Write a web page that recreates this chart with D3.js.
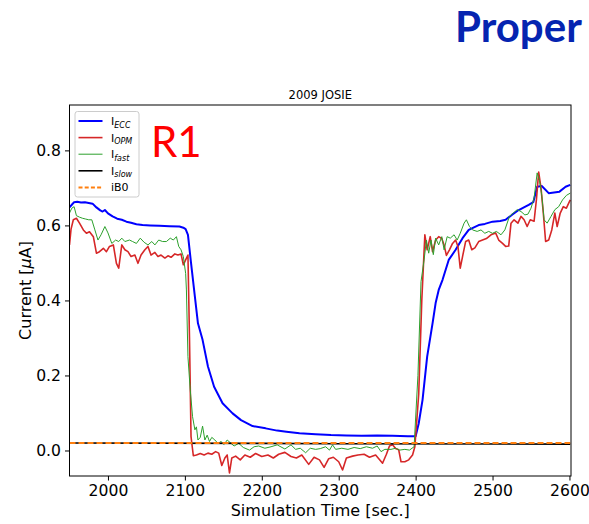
<!DOCTYPE html>
<html><head><meta charset="utf-8">
<script src="https://cdn.jsdelivr.net/npm/d3@7"></script>
<style>body{margin:0;background:#fff}svg{display:block}</style>
</head><body>
<svg id="c" width="589" height="524"></svg>
<script>
// ---------- data ----------
const xTicks = [2000, 2100, 2200, 2300, 2400, 2500, 2600];
const yTicks = [0.0, 0.2, 0.4, 0.6, 0.8];
const seriesNames = ["ECC", "OPM", "fast", "slow"];

const eccT = [1950,1953,1956,1960,1965,1970,1975,1980,1985,1990,1993,1996,2000,2006,2012,2018,2024,2030,2037,2045,2055,2067,2080,2093,2098,2101,2104,2108,2112,2117,2123,2130,2138,2149,2162,2173,2188,2205,2220,2232,2249,2270,2290,2310,2330,2350,2370,2390,2400,2404,2409,2415,2422,2426,2430,2435,2443,2452,2461,2469,2482,2490,2500,2510,2517,2525,2534,2547,2553,2558,2564,2573,2580,2587,2595,2601];
const eccV = [0.648,0.655,0.662,0.663,0.661,0.662,0.660,0.658,0.648,0.640,0.637,0.641,0.632,0.624,0.618,0.615,0.610,0.607,0.603,0.601,0.600,0.599,0.598,0.597,0.594,0.590,0.575,0.500,0.428,0.339,0.295,0.224,0.170,0.126,0.099,0.081,0.065,0.059,0.053,0.050,0.046,0.043,0.041,0.040,0.039,0.040,0.039,0.038,0.038,0.072,0.135,0.250,0.339,0.393,0.428,0.455,0.508,0.535,0.566,0.588,0.601,0.604,0.610,0.612,0.615,0.628,0.641,0.655,0.662,0.703,0.705,0.686,0.688,0.690,0.703,0.708];

const opmT = [1950,1952,1955,1959,1963,1968,1972,1976,1981,1985,1989,1994,1998,2002,2007,2011,2014,2018,2022,2026,2030,2035,2039,2043,2048,2052,2056,2061,2065,2069,2074,2078,2082,2087,2091,2095,2098,2101,2104,2106,2108,2111,2115,2120,2125,2130,2135,2140,2144,2148,2152,2155,2158,2161,2166,2172,2178,2185,2192,2200,2208,2215,2222,2230,2238,2245,2252,2261,2268,2275,2281,2287,2293,2300,2305,2310,2318,2325,2333,2340,2348,2357,2362,2366,2370,2374,2378,2381,2386,2391,2396,2399,2404,2408,2412,2415,2419,2422,2426,2430,2434,2437,2440,2444,2448,2452,2455,2458,2461,2465,2469,2473,2477,2482,2487,2492,2498,2504,2508,2513,2517,2521,2524,2528,2533,2537,2541,2545,2549,2554,2557,2560,2563,2566,2569,2573,2577,2581,2584,2588,2592,2596,2601];
const opmV = [0.548,0.590,0.615,0.619,0.606,0.588,0.579,0.583,0.570,0.526,0.530,0.539,0.530,0.544,0.548,0.499,0.486,0.548,0.535,0.530,0.517,0.521,0.499,0.521,0.535,0.544,0.521,0.528,0.517,0.521,0.513,0.519,0.515,0.524,0.521,0.524,0.495,0.508,0.521,0.300,0.037,-0.014,-0.012,-0.008,-0.012,-0.007,-0.010,-0.003,-0.007,-0.040,-0.020,-0.012,-0.060,-0.020,-0.015,-0.025,-0.012,-0.018,-0.008,-0.016,-0.012,-0.020,-0.010,-0.005,-0.016,-0.020,-0.012,-0.037,-0.018,-0.025,-0.045,-0.022,-0.018,-0.030,-0.052,-0.020,-0.015,-0.012,-0.010,-0.018,-0.012,-0.034,-0.010,0.012,0.015,0.005,0.002,-0.030,-0.030,-0.025,-0.012,0.010,0.150,0.400,0.575,0.535,0.570,0.530,0.561,0.570,0.565,0.548,0.520,0.535,0.552,0.561,0.544,0.486,0.517,0.557,0.561,0.535,0.540,0.557,0.561,0.565,0.575,0.580,0.561,0.552,0.544,0.545,0.606,0.615,0.606,0.624,0.615,0.597,0.615,0.611,0.668,0.742,0.700,0.633,0.557,0.561,0.588,0.633,0.597,0.633,0.650,0.646,0.668];

const fastT = [1950,1953,1956,1959,1963,1967,1971,1975,1979,1983,1987,1991,1996,2000,2005,2010,2014,2018,2022,2028,2032,2037,2042,2047,2052,2057,2061,2066,2071,2076,2081,2085,2089,2092,2095,2098,2101,2102,2104,2107,2110,2113,2115,2117,2120,2123,2126,2129,2132,2135,2139,2143,2147,2151,2155,2160,2164,2170,2176,2184,2190,2196,2204,2212,2220,2230,2238,2244,2250,2257,2263,2270,2276,2283,2288,2292,2296,2304,2312,2320,2328,2336,2344,2350,2355,2360,2368,2374,2379,2386,2392,2398,2403,2407,2411,2414,2417,2420,2423,2426,2430,2434,2437,2441,2445,2450,2454,2458,2463,2466,2470,2474,2480,2485,2490,2495,2500,2505,2511,2516,2522,2527,2532,2537,2542,2546,2550,2554,2558,2561,2564,2567,2571,2576,2581,2586,2591,2596,2601];
const fastV = [0.633,0.646,0.650,0.626,0.622,0.619,0.617,0.615,0.615,0.588,0.561,0.575,0.597,0.580,0.552,0.561,0.557,0.566,0.557,0.561,0.557,0.552,0.566,0.555,0.548,0.557,0.548,0.561,0.557,0.557,0.566,0.561,0.570,0.544,0.535,0.517,0.472,0.428,0.250,0.161,0.090,0.055,0.063,0.028,0.035,0.065,0.028,0.041,0.024,0.035,0.028,0.019,0.024,0.016,0.028,0.019,0.012,0.019,0.008,0.001,0.010,0.012,0.006,0.010,0.015,0.004,0.015,0.003,0.006,-0.006,0.006,0.003,0.005,0.010,0.001,0.015,0.003,0.006,0.003,0.008,0.005,0.010,0.006,0.012,-0.003,0.003,0.003,0.006,0.001,0.003,0.001,0.010,0.200,0.450,0.508,0.561,0.526,0.561,0.522,0.566,0.548,0.570,0.535,0.570,0.566,0.575,0.561,0.579,0.606,0.615,0.597,0.588,0.584,0.588,0.579,0.584,0.579,0.584,0.575,0.588,0.624,0.633,0.642,0.637,0.628,0.630,0.646,0.673,0.740,0.720,0.680,0.615,0.606,0.624,0.642,0.650,0.668,0.680,0.686];

const slowT = [1950, 2200, 2300, 2601];
const slowV = [0.020, 0.019, 0.018, 0.017];
const ib0T = [1950, 2601];
const ib0V = [0.020, 0.020];

// ---------- layout ----------
const L = 69.5, R = 571, T = 105, B = 476;
const svg = d3.select("#c");
const font = "DejaVu Sans, sans-serif";

const x = d3.scaleLinear().domain([1950, 2602]).range([L, R]);
const y = d3.scaleLinear().domain([-0.068, 0.921]).range([B, T]);

svg.append("defs").append("clipPath").attr("id","clip")
  .append("rect").attr("x",L).attr("y",T).attr("width",R-L).attr("height",B-T);

const line = d3.line().x(d=>x(d[0])).y(d=>y(d[1]));
const zip = (a,b)=>a.map((t,i)=>[t,b[i]]);
const g = svg.append("g").attr("clip-path","url(#clip)");

const series = [
  {t:eccT, v:eccV, c:"#0000ff", w:2},
  {t:opmT, v:opmV, c:"#d62728", w:1.6},
  {t:fastT, v:fastV, c:"#2ca02c", w:1},
  {t:slowT, v:slowV, c:"#000000", w:1.6},
  {t:ib0T, v:ib0V, c:"#ff7f0e", w:2, dash:"6,3"}
];
series.forEach(s=>{
  g.append("path").attr("d", line(zip(s.t,s.v))).attr("fill","none")
   .attr("stroke", s.c).attr("stroke-width", s.w)
   .attr("stroke-linejoin","round")
   .attr("stroke-dasharray", s.dash || null);
});

// axes
const xa = svg.append("g").attr("transform",`translate(0,${B})`)
  .call(d3.axisBottom(x).tickValues(xTicks).tickFormat(d3.format("d")).tickSize(4.5).tickPadding(4));
const ya = svg.append("g").attr("transform",`translate(${L},0)`)
  .call(d3.axisLeft(y).tickValues(yTicks).tickFormat(d3.format(".1f")).tickSize(4.5).tickPadding(4));
[xa,ya].forEach(a=>{
  a.select(".domain").remove();
  a.selectAll("text").attr("font-family",font).attr("font-size",15.6).attr("fill","#000");
  a.selectAll("line").attr("stroke","#000").attr("stroke-width",1);
});
xa.selectAll("text").attr("dy","0.75em");
// spines
svg.append("rect").attr("x",L).attr("y",T).attr("width",R-L).attr("height",B-T)
  .attr("fill","none").attr("stroke","#000").attr("stroke-width",1);

// title and labels
svg.append("text").attr("x",(L+R)/2).attr("y",99).attr("text-anchor","middle")
  .attr("font-family",font).attr("font-size",11.5).text("2009 JOSIE");
svg.append("text").attr("x",(L+R)/2).attr("y",516).attr("text-anchor","middle")
  .attr("font-family",font).attr("font-size",16).text("Simulation Time [sec.]");
const yl = svg.append("text").attr("transform",`translate(30.5,${(T+B)/2}) rotate(-90)`)
  .attr("text-anchor","middle").attr("font-family",font).attr("font-size",16);
yl.append("tspan").text("Current [");
yl.append("tspan").attr("font-style","italic").text("μ");
yl.append("tspan").text("A]");

// legend
const lg = svg.append("g");
lg.append("rect").attr("x",75).attr("y",111.5).attr("width",64).attr("height",85.5)
  .attr("rx",2.5).attr("fill","#fff").attr("fill-opacity",0.8)
  .attr("stroke","#cccccc").attr("stroke-width",1);
const legItems = [
  {sub:"ECC", c:"#0000ff", w:2},
  {sub:"OPM", c:"#d62728", w:1.6},
  {sub:"fast", c:"#2ca02c", w:1},
  {sub:"slow", c:"#000000", w:1.6},
  {label:"iB0", c:"#ff7f0e", w:2, dash:"4,2.2"}
];
legItems.forEach((d,i)=>{
  const yy = 121 + i*16.6;
  lg.append("line").attr("x1",78.5).attr("x2",102.5).attr("y1",yy).attr("y2",yy)
    .attr("stroke",d.c).attr("stroke-width",d.w).attr("stroke-dasharray",d.dash||null);
  const t = lg.append("text").attr("x",111).attr("y",yy+4).attr("font-family",font).attr("font-size",11);
  if (d.label) { t.text(d.label); }
  else {
    t.append("tspan").text("I");
    t.append("tspan").attr("dy",2.5).attr("font-size",8).attr("font-style","italic").text(d.sub);
  }
});

// annotations
svg.append("text").attr("x",151).attr("y",157).attr("font-family","Lato, sans-serif")
  .attr("font-size",42).attr("fill","#ff0000").text("R1");
svg.append("text").attr("x",455).attr("y",41.5).attr("font-family","Lato, sans-serif")
  .attr("font-weight","bold").attr("font-size",42).attr("fill","#0524b0").text("Proper");
</script>
</body></html>
